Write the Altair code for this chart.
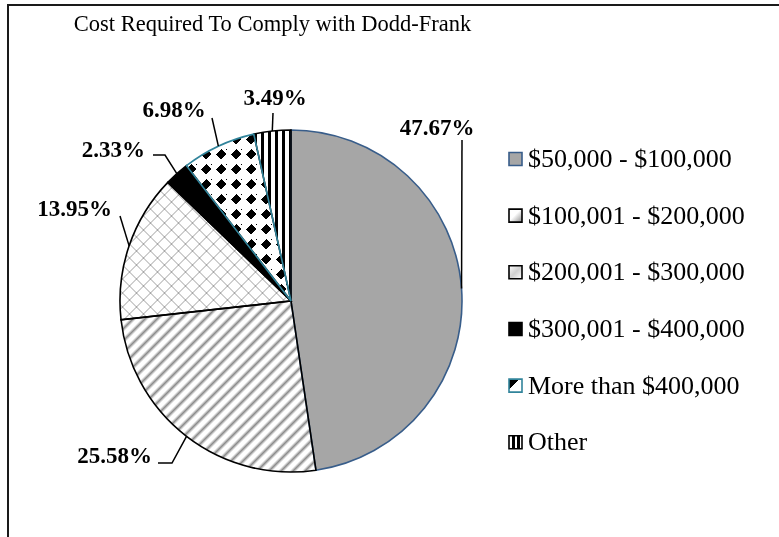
import math
import altair as alt
import pandas as pd

# ---------------- data ----------------
categories = ["$50,000 - $100,000", "$100,001 - $200,000", "$200,001 - $300,000",
              "$300,001 - $400,000", "More than $400,000", "Other"]
shares = [47.67, 25.58, 13.95, 2.33, 6.98, 3.49]
title_text = "Cost Required To Comply with Dodd-Frank"

# ---------------- layout / style ----------------
W, H = 779, 537
CX, CY, R = 291, 301, 171
SERIF = "Liberation Serif"

# label anchors and leader bend points (annotation layout)
LABEL_LAYOUT = [
    dict(x=437, y=135, align="center", bends=[(462, 140)]),
    dict(x=152, y=463, align="right", bends=[(172, 463), (158, 463)]),
    dict(x=112, y=216, align="right", bends=[(120, 216)]),
    dict(x=145, y=157, align="right", bends=[(165, 155), (153, 155)]),
    dict(x=174, y=117, align="center", bends=[(212, 118)]),
    dict(x=275, y=105, align="center", bends=[(273, 113)]),
]
STROKES = ["#385d8a", "#000000", "#000000", "#000000", "#31849b", "#000000"]

total = sum(shares)
starts, ends = [], []
acc = 0.0
for v in shares:
    starts.append(acc)
    acc += v
    ends.append(acc)


def ang(v):
    return 2 * math.pi * v / total


def wedge_bbox(a0, a1):
    pts = [(0.0, 0.0), (R * math.sin(a0), -R * math.cos(a0)), (R * math.sin(a1), -R * math.cos(a1))]
    for k in range(5):
        c = k * math.pi / 2
        if a0 < c < a1:
            pts.append((R * math.sin(c), -R * math.cos(c)))
    xs = [p[0] for p in pts]
    ys = [p[1] for p in pts]
    return max(xs) - min(xs), max(ys) - min(ys)


def stripes(w, h, direction, period, band, ink, paper, phase=0.0, soft=False):
    """Stripe fill as a linear gradient in the mark's bounding box.
    Coordinate c: x+y (diag, ////), x-y+h (anti, \\\\), x (vert), y (horiz)."""
    if direction in ("diag", "anti"):
        s = (w + h) / (w * w + h * h)
        if direction == "diag":
            x1, y1, x2, y2 = 0, 0, w * s, h * s
        else:
            x1, y1, x2, y2 = 0, 1, w * s, 1 - h * s
        length = w + h
    elif direction == "vert":
        x1, y1, x2, y2 = 0, 0, 1, 0
        length = w
    else:
        x1, y1, x2, y2 = 0, 0, 0, 1
        length = h
    c = phase - period * math.ceil(phase / period)
    stops = []

    def add(pos, col):
        t = min(max(pos / length, 0.0), 1.0)
        stops.append({"offset": round(t, 5), "color": col})

    while c < length:
        if soft:
            for f, col in ((0, paper), (0.2, paper), (0.5, ink), (0.8, paper)):
                add(c + f * period, col)
        else:
            add(c, ink)
            add(c + band, ink)
            add(c + band, paper)
            add(c + period, paper)
        c += period
    return {"gradient": "linear", "x1": x1, "y1": y1, "x2": x2, "y2": y2, "stops": stops}


bbox = [wedge_bbox(ang(s), ang(e)) for s, e in zip(starts, ends)]

slices = pd.DataFrame({"idx": list(range(len(shares))), "category": categories,
                       "share": shares, "start": starts, "end": ends})

theta = alt.Theta("start:Q", stack=None, scale=alt.Scale(domain=[0, total], range=[0, 2 * math.pi]))
theta2 = alt.Theta2("end:Q")


def arc_layer(i, **mark):
    return (alt.Chart(slices).transform_filter(alt.datum.idx == i)
            .mark_arc(radius=R, **mark)
            .encode(theta=theta, theta2=theta2, x=alt.value(CX), y=alt.value(CY)))


wB, hB = bbox[1]
wC, hC = bbox[2]
wE, hE = bbox[4]
wF, hF = bbox[5]

BRICK = "#cfcfcf"
DP = 15.0    # diamond lattice spacing
DB = 10.8    # diamond size (diagonal band)
DA = 10.2    # axis band used to drop the in-between diamonds
fills = [
    "#a6a6a6",
    stripes(wB, hB, "diag", 12.0, 0, "#8c8c8c", "#ffffff", soft=True),
    stripes(wC, hC, "diag", 14.0, 2.0, BRICK, "#ffffff"),
    "#000000",
    stripes(wE, hE, "diag", DP, DB, "#000000", "#ffffff", phase=10.0 - DB / 2),
    stripes(wF, hF, "vert", 7.0, 3.0, "#000000", "#ffffff"),
]

layers = []
for i in range(len(shares)):
    layers.append(arc_layer(i, fill=fills[i], strokeWidth=0))
# second pattern family for the brick slice
layers.append(arc_layer(2, fill=stripes(wC, hC, "anti", 14.0, 2.0, BRICK, "#ffffff"),
                        blend="multiply", strokeWidth=0))
# diamond lattice: intersect further stripe families with screen blending
layers.append(arc_layer(4, fill=stripes(wE, hE, "anti", DP, DB, "#000000", "#ffffff",
                                        phase=(hE - DB / 2) % DP),
                        blend="screen", strokeWidth=0))
layers.append(arc_layer(4, fill=stripes(wE, hE, "horiz", DP, DA, "#000000", "#ffffff",
                                        phase=5.0 - DA / 2),
                        blend="screen", strokeWidth=0))
layers.append(arc_layer(4, fill=stripes(wE, hE, "vert", DP, DA, "#000000", "#ffffff",
                                        phase=5.0 - DA / 2),
                        blend="screen", strokeWidth=0))
# outlines
for i in [0, 5, 1, 2, 3, 4]:
    layers.append(arc_layer(i, fillOpacity=0, stroke=STROKES[i], strokeWidth=1.6))

# ---------------- labels and leaders ----------------
lab_rows = []
lead_rows = []
for i, v in enumerate(shares):
    a = ang(starts[i] + v / 2)
    ex, ey = CX + R * math.sin(a), CY - R * math.cos(a)
    lay = LABEL_LAYOUT[i]
    lab_rows.append({"idx": i, "label": f"{v:.2f}%", "lx": lay["x"], "ly": lay["y"], "align": lay["align"]})
    pts = [(ex, ey)] + lay["bends"]
    for j, (px, py) in enumerate(pts):
        lead_rows.append({"idx": i, "seq": j, "px": px, "py": py})
labels = pd.DataFrame(lab_rows)
leaders = pd.DataFrame(lead_rows)

layers.append(alt.Chart(leaders).mark_line(color="#000000", strokeWidth=1.5).encode(
    x=alt.X("px:Q", scale=None, axis=None), y=alt.Y("py:Q", scale=None, axis=None),
    detail="idx:N", order="seq:Q"))
for al in ["center", "right"]:
    layers.append(alt.Chart(labels).transform_filter(alt.datum.align == al)
                  .mark_text(align=al, baseline="alphabetic", font=SERIF, fontSize=23,
                             fontWeight="bold", color="#000000")
                  .encode(x=alt.X("lx:Q", scale=None, axis=None), y=alt.Y("ly:Q", scale=None, axis=None),
                          text="label:N"))

# ---------------- legend ----------------
legend_y = alt.Y("category:N", sort=categories, axis=None,
                 scale=alt.Scale(type="point", domain=categories, range=[159, 442.3], padding=0))
SQ = 13
legend_fills = [
    "#a6a6a6",
    {"gradient": "linear", "x1": 0, "y1": 0, "x2": 1, "y2": 1,
     "stops": [{"offset": 0, "color": "#ffffff"}, {"offset": 0.45, "color": "#ffffff"},
               {"offset": 1, "color": "#8c8c8c"}]},
    {"gradient": "linear", "x1": 0, "y1": 0, "x2": 1, "y2": 1,
     "stops": [{"offset": 0, "color": "#ffffff"}, {"offset": 0.5, "color": "#d0d0d0"},
               {"offset": 1, "color": "#ffffff"}]},
    "#000000",
    {"gradient": "linear", "x1": 0, "y1": 0, "x2": 1, "y2": 1,
     "stops": [{"offset": 0, "color": "#000000"}, {"offset": 0.4, "color": "#000000"},
               {"offset": 0.4, "color": "#ffffff"}, {"offset": 1, "color": "#ffffff"}]},
    {"gradient": "linear", "x1": 0, "y1": 0, "x2": 1, "y2": 0,
     "stops": [{"offset": 0, "color": "#ffffff"}, {"offset": 0.25, "color": "#ffffff"},
               {"offset": 0.25, "color": "#000000"}, {"offset": 0.45, "color": "#000000"},
               {"offset": 0.45, "color": "#ffffff"}, {"offset": 0.65, "color": "#ffffff"},
               {"offset": 0.65, "color": "#000000"}, {"offset": 0.85, "color": "#000000"},
               {"offset": 0.85, "color": "#ffffff"}, {"offset": 1, "color": "#ffffff"}]},
]
for i in range(len(shares)):
    layers.append(alt.Chart(slices).transform_filter(alt.datum.idx == i)
                  .mark_square(size=SQ * SQ, fill=legend_fills[i], stroke=STROKES[i],
                               strokeWidth=1.6, opacity=1)
                  .encode(x=alt.value(515.5), y=legend_y))
layers.append(alt.Chart(slices).mark_text(align="left", baseline="alphabetic", dy=8,
                                          font=SERIF, fontSize=26, color="#000000")
              .encode(x=alt.value(528), y=legend_y, text="category:N"))

# ---------------- title and frame ----------------
title_df = pd.DataFrame({"t": [title_text]})
layers.append(alt.Chart(title_df).mark_text(align="center", baseline="alphabetic", font=SERIF,
                                            fontSize=22.5, color="#000000")
              .encode(x=alt.value(272.5), y=alt.value(31), text="t:N"))
layers.append(alt.Chart(title_df).mark_rule(color="#1a1a1a", strokeWidth=2)
              .encode(x=alt.value(8), y=alt.value(4), y2=alt.value(H)))
layers.append(alt.Chart(title_df).mark_rule(color="#1a1a1a", strokeWidth=2)
              .encode(x=alt.value(7), x2=alt.value(W), y=alt.value(5)))

chart = (alt.layer(*layers)
         .resolve_scale(x="independent", y="independent")
         .properties(width=W, height=H, padding=0,
                     autosize=alt.AutoSizeParams(type="none"), background="white")
         .configure_view(stroke=None))

chart.save("out.html", embed_options={"renderer": "svg", "actions": False})
